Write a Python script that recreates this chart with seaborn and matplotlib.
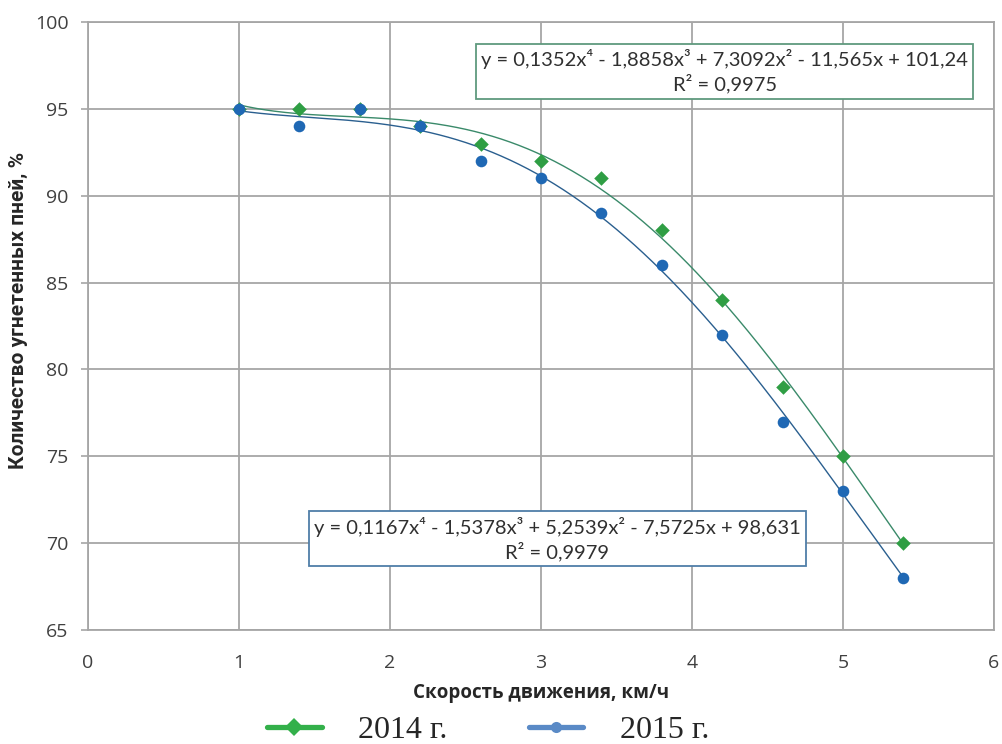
import numpy as np
import pandas as pd
import matplotlib
matplotlib.use("Agg")
import matplotlib.pyplot as plt
from matplotlib.lines import Line2D
import seaborn as sns

# Speed of movement, km/h
speed = [1.0, 1.4, 1.8, 2.2, 2.6, 3.0, 3.4, 3.8, 4.2, 4.6, 5.0, 5.4]
# Share of suppressed stumps, %
share_2014 = [95, 95, 95, 94, 93, 92, 91, 88, 84, 79, 75, 70]
share_2015 = [95, 94, 95, 94, 92, 91, 89, 86, 82, 77, 73, 68]

# Polynomial trend coefficients (x^4 ... x^0)
coef_2014 = [0.1352, -1.8858, 7.3092, -11.565, 101.24]
coef_2015 = [0.1167, -1.5378, 5.2539, -7.5725, 98.631]
eq_2014 = "y = 0,1352x⁴ - 1,8858x³ + 7,3092x² - 11,565x + 101,24\nR² = 0,9975"
eq_2015 = "y = 0,1167x⁴ - 1,5378x³ + 5,2539x² - 7,5725x + 98,631\nR² = 0,9979"

series_labels = ["2014 г.", "2015 г."]
x_ticks = [0, 1, 2, 3, 4, 5, 6]
y_ticks = [65, 70, 75, 80, 85, 90, 95, 100]

sns.set_theme(style="white")
plt.rcParams["font.family"] = ["Open Sans", "DejaVu Sans"]

green = "#2f9e44"
blue = "#1f68b4"
trend_green = "#3a8a6a"
trend_blue = "#2a5f8f"
grid_c = "#a6a6a6"

fig = plt.figure(figsize=(10.03, 7.44), dpi=100)
ax = fig.add_axes([0.0877, 0.1532, 0.9033, 0.8172])

xs = np.linspace(min(speed), max(speed), 300)
trend = pd.DataFrame({
    "x": np.concatenate([xs, xs]),
    "y": np.concatenate([np.polyval(coef_2014, xs), np.polyval(coef_2015, xs)]),
    "s": ["2014"] * len(xs) + ["2015"] * len(xs),
})
sns.lineplot(data=trend, x="x", y="y", hue="s",
             palette={"2014": trend_green, "2015": trend_blue},
             linewidth=1.0, legend=False, ax=ax, zorder=3)

pts14 = pd.DataFrame({"x": speed, "y": share_2014})
pts15 = pd.DataFrame({"x": speed, "y": share_2015})
sns.scatterplot(data=pts14, x="x", y="y", marker="D", s=55, color=green,
                edgecolor=green, linewidth=0, ax=ax, zorder=4)
sns.scatterplot(data=pts15, x="x", y="y", marker="o", s=70, color=blue,
                edgecolor=blue, linewidth=0, ax=ax, zorder=5)

ax.set_xlim(0, 6)
ax.set_ylim(65, 100)
ax.set_xticks(x_ticks)
ax.set_yticks(y_ticks)
ax.grid(True, color=grid_c, linewidth=1.3)
for sp in ax.spines.values():
    sp.set_color(grid_c)
    sp.set_linewidth(1.3)
ax.tick_params(axis="both", colors=grid_c, labelcolor="#404040",
               labelsize=14, length=5, width=1.2, direction="out",
               left=True, bottom=False)
ax.tick_params(axis="y", pad=9)
ax.tick_params(axis="x", pad=12)

ax.set_xlabel("Скорость движения, км/ч", fontsize=13.5, fontweight="bold",
              color="#262626", labelpad=8)
ax.set_ylabel("Количество угнетенных пней, %", fontsize=15,
              family=["Roboto", "DejaVu Sans"],
              fontweight="bold", color="#262626", va="center")
ax.yaxis.set_label_coords(-0.077, 0.526)

eq_font = ["Lato", "DejaVu Sans"]
ax.text(0.703, 0.919, eq_2014, transform=ax.transAxes, ha="center",
        va="center", fontsize=14.5, family=eq_font, color="#303030",
        linespacing=1.3, zorder=6,
        bbox=dict(boxstyle="square,pad=0.25", facecolor="white",
                  edgecolor="#5f9a7e", linewidth=1.3))
ax.text(0.518, 0.150, eq_2015, transform=ax.transAxes, ha="center",
        va="center", fontsize=14.5, family=eq_font, color="#303030",
        linespacing=1.3, zorder=6,
        bbox=dict(boxstyle="square,pad=0.25", facecolor="white",
                  edgecolor="#4f7ea8", linewidth=1.3))

handles = [
    Line2D([0], [0], color="#33b04a", linewidth=3.8, marker="D",
           markersize=9, markerfacecolor="#33b04a", markeredgewidth=0),
    Line2D([0], [0], color="#5a8ac6", linewidth=3.8, marker="o",
           markersize=8, markerfacecolor="#5a8ac6", markeredgewidth=0),
]
fig.legend(handles, series_labels, loc="center", bbox_to_anchor=(0.487, 0.018),
           ncol=2, frameon=False, handlelength=1.7, handletextpad=1.15,
           columnspacing=2.55, borderpad=0.0,
           prop={"family": "Liberation Serif", "size": 23})

fig.savefig("out.png", dpi=100, facecolor="white")
